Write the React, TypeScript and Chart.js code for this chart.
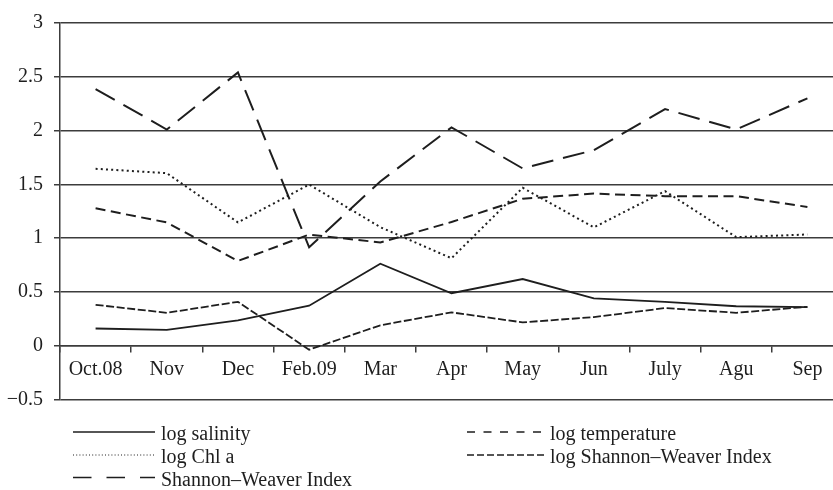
import React, { useEffect, useRef } from "react";
import { Chart, registerables } from "chart.js";

Chart.register(...registerables);

// Sampling months
const months = ["Oct.08", "Nov", "Dec", "Feb.09", "Mar", "Apr", "May", "Jun", "July", "Agu", "Sep"];

// Series values
const logSalinity = [0.16, 0.147, 0.235, 0.372, 0.763, 0.488, 0.62, 0.44, 0.408, 0.367, 0.358];
const logTemperature = [1.277, 1.146, 0.788, 1.033, 0.96, 1.15, 1.366, 1.414, 1.39, 1.39, 1.29];
const logChlA = [1.645, 1.604, 1.146, 1.498, 1.102, 0.813, 1.468, 1.1, 1.437, 1.009, 1.034];
const logShannonWeaver = [0.38, 0.306, 0.408, -0.037, 0.19, 0.31, 0.217, 0.266, 0.35, 0.306, 0.362];
const shannonWeaver = [2.386, 2.01, 2.54, 0.915, 1.527, 2.03, 1.648, 1.818, 2.2, 2.01, 2.3];

// Series labels
const seriesLabels = [
  "log salinity",
  "log temperature",
  "log Chl a",
  "log Shannon\u2013Weaver Index",
  "Shannon\u2013Weaver Index",
];

// Y axis range and step
const yMin = -0.5;
const yMax = 3;
const yStep = 0.5;

const INK = "#1e1e1e";
const GRID = "#3c3c3c";
const FONT_FAMILY = "'Liberation Serif', 'Times New Roman', serif";

// Line dash of each series in the plot, and the dash of its legend sample
const plotDashes: number[][] = [[], [10, 5.5], [2, 3.2], [8, 2.6], [22, 10]];
const plotWidths = [1.8, 2, 2, 1.8, 2];
const legendDashes: number[][] = [[], [8, 8.5], [1, 2.2], [7, 3], [18.5, 15]];

const seriesValues = [logSalinity, logTemperature, logChlA, logShannonWeaver, shannonWeaver];

const legendPlugin = {
  id: "twoColumnLegend",
  afterDraw(chart: Chart) {
    const { ctx, chartArea } = chart;
    const rowY = [chartArea.bottom + 32.5, chartArea.bottom + 55.5, chartArea.bottom + 78];
    const cols = [
      { x0: 73, x1: 155, tx: 161 },
      { x0: 467, x1: 545, tx: 550 },
    ];
    ctx.save();
    ctx.font = `20px ${FONT_FAMILY}`;
    ctx.fillStyle = INK;
    ctx.textBaseline = "alphabetic";
    ctx.textAlign = "left";
    seriesLabels.forEach((label, i) => {
      const row = Math.floor(i / 2);
      const col = cols[i % 2];
      const y = rowY[row];
      ctx.beginPath();
      ctx.strokeStyle = INK;
      ctx.lineWidth = i === 2 ? 1 : 1.6;
      ctx.setLineDash(legendDashes[i]);
      ctx.moveTo(col.x0, y);
      ctx.lineTo(col.x1, y);
      ctx.stroke();
      ctx.setLineDash([]);
      ctx.fillText(label, col.tx, y + 8);
    });
    ctx.restore();
  },
};

export default function App() {
  const canvasRef = useRef<HTMLCanvasElement | null>(null);

  useEffect(() => {
    const canvas = canvasRef.current;
    if (!canvas) return;
    const font = { family: FONT_FAMILY, size: 20 };
    const chart = new Chart(canvas, {
      type: "line",
      data: {
        labels: months,
        datasets: seriesValues.map((values, i) => ({
          label: seriesLabels[i],
          data: values,
          borderColor: INK,
          backgroundColor: INK,
          borderWidth: plotWidths[i],
          borderDash: plotDashes[i],
          pointRadius: 0,
          pointHoverRadius: 0,
          tension: 0,
          fill: false,
        })),
      },
      options: {
        animation: false,
        responsive: false,
        maintainAspectRatio: false,
        layout: { padding: { top: 18, bottom: 90.5, left: 0, right: 7 } },
        plugins: {
          legend: { display: false },
          tooltip: { enabled: false },
        },
        scales: {
          x: {
            type: "category",
            position: { y: 0 } as any,
            offset: true,
            grid: {
              offset: true,
              drawOnChartArea: false,
              drawTicks: true,
              tickLength: 6,
              color: GRID,
              lineWidth: 1.5,
            },
            border: { display: true, color: GRID, width: 1.5 },
            ticks: {
              font,
              color: INK,
              padding: 6,
              maxRotation: 0,
              autoSkip: false,
            },
          },
          y: {
            min: yMin,
            max: yMax,
            grid: {
              color: GRID,
              lineWidth: 1.5,
              drawTicks: true,
              tickLength: 6,
            },
            border: { display: true, color: GRID, width: 1.5 },
            ticks: {
              stepSize: yStep,
              font,
              color: INK,
              padding: 11,
              callback: (v: any) => {
                const n = Number(v);
                return n < 0 ? "\u2212" + String(Math.abs(n)) : String(n);
              },
            },
            afterFit: (scale: any) => {
              scale.width = 60;
            },
          },
        },
      },
      plugins: [legendPlugin],
    });
    return () => chart.destroy();
  }, []);

  return (
    <div
      style={{
        position: "fixed",
        left: 0,
        top: 0,
        width: 833,
        height: 490,
        overflow: "hidden",
        background: "#fff",
      }}
    >
      <canvas ref={canvasRef} width={850} height={490} style={{ display: "block" }} />
    </div>
  );
}
